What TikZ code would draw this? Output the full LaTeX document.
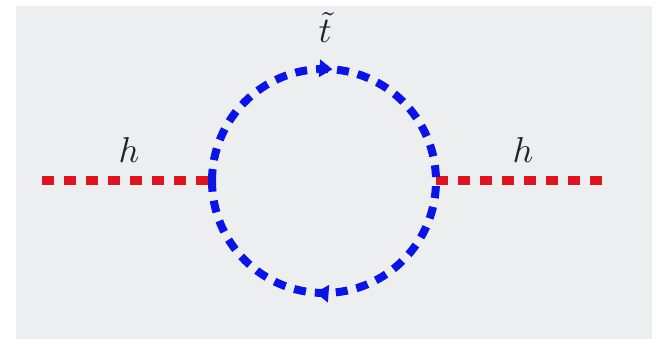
\documentclass[tikz,border=0pt]{standalone}
\usepackage{graphicx}
\usetikzlibrary{arrows.meta,decorations.markings}
\definecolor{bgray}{RGB}{236,238,240}
\definecolor{hred}{RGB}{218,22,32}
\definecolor{sblue}{RGB}{12,20,225}
\definecolor{labcol}{RGB}{35,35,40}
\tikzset{
  higgs/.style={draw=hred, line width=9pt, dash pattern=on 12pt off 10pt},
  stop/.style={draw=sblue, line width=8pt, dash pattern=on 12pt off 9pt,
    postaction={decorate},
    decoration={markings,
      mark=at position 0.262 with {\arrow{Triangle[length=13pt,width=17pt]}},
      mark=at position 0.762 with {\arrow{Triangle[length=13pt,width=17pt]}}}},
  lab/.style={anchor=base, text=labcol}
}
\newcommand{\biglab}[1]{\scalebox{3.6}{$#1$}}
\begin{document}
\begin{tikzpicture}[x=1pt,y=1pt]
\useasboundingbox (0,0) rectangle (662,339);
\fill[white] (0,0) rectangle (662,339);
\fill[bgray] (16,0) rectangle (652,333);
\coordinate (a) at (42,158);
\coordinate (v1) at (212,158);
\coordinate (v2) at (436,158);
\coordinate (b) at (608,158);
\draw[higgs] (a) -- (v1);
\draw[higgs] (v2) -- (b);
\draw[stop, color=sblue] (v1) arc[start angle=180, end angle=-180, radius=112];
\node[lab] (hl) at (129,176) {\biglab{h}};
\node[lab] (hr) at (523,176) {\biglab{h}};
\node[lab] (tt) at (325,296) {\biglab{\tilde t}};
\end{tikzpicture}
\end{document}
